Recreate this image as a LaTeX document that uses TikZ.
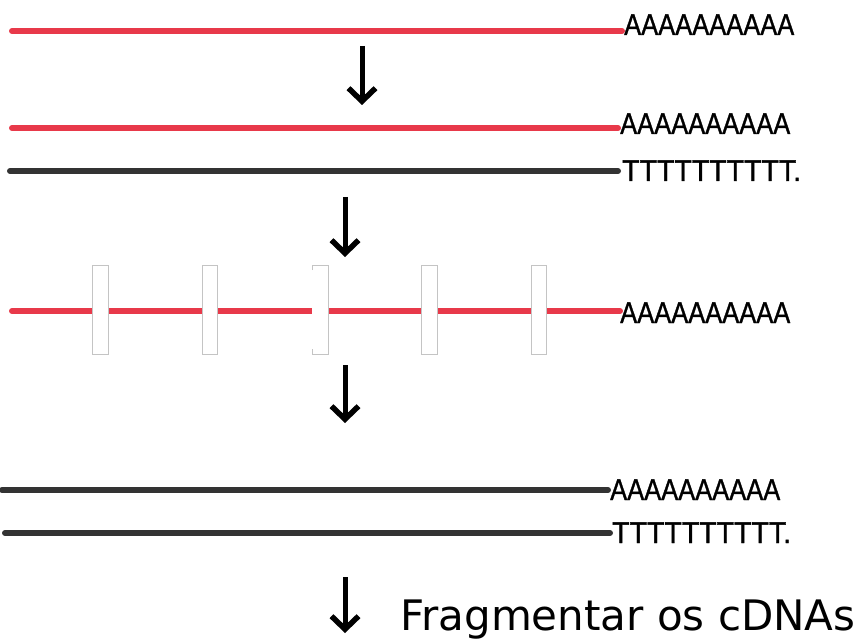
\documentclass[tikz,border=0pt]{standalone}
\usepackage{fontspec}
\usepackage{tikz}
\usetikzlibrary{arrows.meta}
\newfontfamily\tailfont[FakeStretch=0.85, FakeBold=1.1]{Liberation Sans}
\newfontfamily\tailwidefont[FakeStretch=0.95, FakeBold=1.1]{Liberation Sans}
\newfontfamily\capfont{DejaVu Sans}
\definecolor{rnared}{HTML}{E8394A}
\definecolor{dnagray}{HTML}{333333}
\definecolor{cutgray}{HTML}{C4C4C4}
\tikzset{
  rna/.style={line width=6pt, draw=rnared, line cap=round},
  cdna/.style={line width=6pt, draw=dnagray, line cap=round},
  tail/.style={anchor=base west, inner sep=0pt, font=\tailfont\fontsize{30}{36}\selectfont},
  tailT/.style={tail, font=\tailwidefont\fontsize{30}{36}\selectfont},
  cutbox/.style={line width=1pt, draw=cutgray, fill=white},
  flow/.style={-{Straight Barb[length=13pt, width=27pt, line width=5.5pt]}, line width=5pt, draw=black},
  caption/.style={anchor=base west, inner sep=0pt, font=\capfont\fontsize{42}{50}\selectfont},
}
\begin{document}
\begin{tikzpicture}[x=1pt, y=-1pt]
  \useasboundingbox (0,0) rectangle (861,644);
  % mRNA mit Poly-A
  \draw[rna] (12,31) -- (622,31);
  \node[tail] (polyA1) at (624,35) {AAAAAAAAAA};
  \coordinate (f1a) at (362,46);
  \coordinate (f1b) at (362,105);
  \draw[flow] (f1a) -- (f1b);
  % Hybrid mRNA / cDNA (Oligo-dT)
  \draw[rna] (12,128) -- (618,128);
  \node[tail] (polyA2) at (620,134) {AAAAAAAAAA};
  \draw[cdna] (10,171) -- (618,171);
  \node[tailT] (polyT2) at (622,181) {TTTTTTTTTT.};
  \coordinate (f2a) at (345,197);
  \coordinate (f2b) at (345,257);
  \draw[flow] (f2a) -- (f2b);
  % RNase H: Schnitte
  \draw[rna] (12,311) -- (620,311);
  \foreach \xa/\xb in {92/108, 202/217, 421/437, 531/546}
    \draw[cutbox] (\xa,265) rectangle (\xb,354);
  \fill[white] (312,265) rectangle (328,354);
  \draw[cutbox, fill=none] (312,270) -- (312,265) -- (328,265) -- (328,354) -- (312,354) -- (312,349);
  \node[tail] (polyA3) at (620,323) {AAAAAAAAAA};
  \coordinate (f3a) at (345,365);
  \coordinate (f3b) at (345,423);
  \draw[flow] (f3a) -- (f3b);
  % ds-cDNA
  \draw[cdna] (2,490) -- (608,490);
  \node[tail] (polyA4) at (610,500) {AAAAAAAAAA};
  \draw[cdna] (5,533) -- (610,533);
  \node[tailT] (polyT4) at (612,543) {TTTTTTTTTT.};
  \coordinate (f4a) at (345,577);
  \coordinate (f4b) at (345,633);
  \draw[flow] (f4a) -- (f4b);
  \node[caption] (frag) at (400,630) {Fragmentar os cDNAs};
\end{tikzpicture}
\end{document}
